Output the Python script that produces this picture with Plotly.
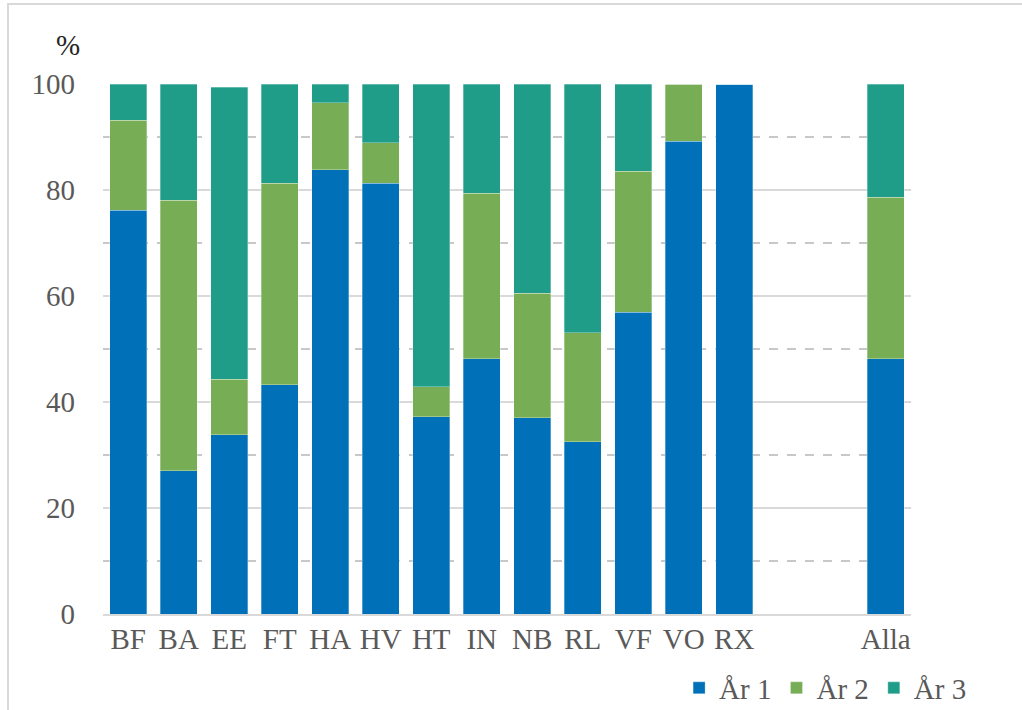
import plotly.graph_objects as go

# Categories (two blank slots before "Alla")
categories = ["BF", "BA", "EE", "FT", "HA", "HV", "HT", "IN", "NB", "RL", "VF", "VO", "RX", " ", "  ", "Alla"]

# Share per year (%)
ar1 = [76.2, 27.0, 33.8, 43.3, 83.8, 81.3, 37.2, 48.2, 37.0, 32.5, 56.9, 89.2, 100.0, None, None, 48.2]
ar2 = [17.0, 51.1, 10.5, 38.0, 12.7, 7.6, 5.7, 31.2, 23.5, 20.6, 26.6, 10.8, 0.0, None, None, 30.4]
ar3 = [6.8, 21.9, 55.1, 18.7, 3.5, 11.1, 57.1, 20.6, 39.5, 46.9, 16.5, 0.0, 0.0, None, None, 21.4]

series = [
    ("År 1", ar1, "#0070B8"),
    ("År 2", ar2, "#76AD55"),
    ("År 3", ar3, "#1F9D89"),
]

FONT = "Liberation Serif"
TEXT_GRAY = "#595959"
GRID = "#D9D9D9"

fig = go.Figure()
for name, vals, color in series:
    fig.add_trace(
        go.Bar(
            x=categories,
            y=vals,
            name=name,
            marker=dict(color=color, line=dict(color="rgba(255,255,255,0.5)", width=0.6)),
        )
    )

fig.update_layout(
    barmode="stack",
    bargap=0.27,
    width=1022,
    height=710,
    paper_bgcolor="white",
    plot_bgcolor="white",
    font=dict(family=FONT, size=29, color=TEXT_GRAY),
    margin=dict(l=103, r=111, t=84, b=96, autoexpand=False),
    xaxis=dict(
        type="category",
        categoryorder="array",
        categoryarray=categories,
        showgrid=False,
        showline=True,
        linecolor=GRID,
        linewidth=2,
        ticks="",
        ticklabelstandoff=-2,
        automargin=False,
        fixedrange=True,
    ),
    yaxis=dict(
        range=[0, 100],
        tickvals=[0, 20, 40, 60, 80, 100],
        showgrid=True,
        gridcolor=GRID,
        gridwidth=2,
        zeroline=False,
        ticks="",
        ticklabelstandoff=27,
        automargin=False,
        minor=dict(
            tickvals=[10, 30, 50, 70, 90],
            showgrid=True,
            gridcolor="#C8C8C8",
            gridwidth=1.5,
            griddash="dash",
        ),
        fixedrange=True,
    ),
    legend=dict(
        orientation="h",
        traceorder="normal",
        x=0.713,
        xanchor="left",
        y=(614 - 688) / 530,
        yanchor="middle",
        font=dict(size=29, color=TEXT_GRAY),
        itemwidth=30,
        bgcolor="rgba(0,0,0,0)",
    ),
    annotations=[
        dict(
            text="%",
            xref="paper",
            yref="paper",
            x=(68 - 103) / 808,
            y=(614 - 45) / 530,
            xanchor="center",
            yanchor="middle",
            showarrow=False,
            font=dict(family=FONT, size=29, color="#262626"),
        )
    ],
    shapes=[
        dict(
            type="rect",
            xref="paper",
            yref="paper",
            x0=(8 - 103) / 808,
            x1=1.3,
            y0=-0.4,
            y1=(614 - 4) / 530,
            line=dict(color=GRID, width=2),
            layer="below",
        )
    ],
)

# drop the browser's default 8px body margin so the figure sits at (0, 0)
fig.write_html(
    "out.html",
    config={"displayModeBar": False},
    post_script="document.body.style.margin = '0';",
)
